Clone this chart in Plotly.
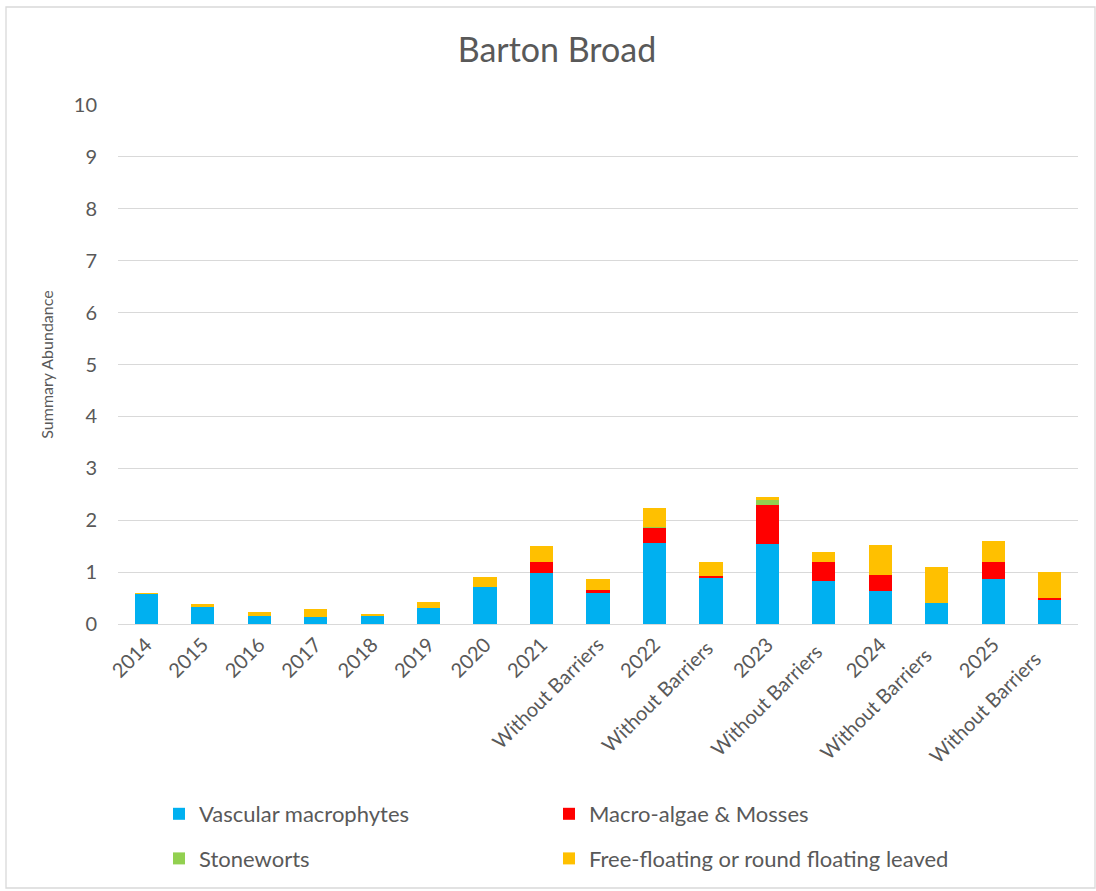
import plotly.graph_objects as go

categories = ["2014", "2015", "2016", "2017", "2018", "2019", "2020", "2021",
              "Without Barriers", "2022", "Without Barriers ", "2023",
              "Without Barriers  ", "2024", "Without Barriers   ", "2025",
              "Without Barriers    "]

vascular = [0.58, 0.32, 0.16, 0.14, 0.17, 0.30, 0.72, 0.98, 0.60, 1.56, 0.90, 1.54, 0.83, 0.63, 0.40, 0.86, 0.48]
macro_algae = [0.0, 0.0, 0.0, 0.0, 0.0, 0.0, 0.0, 0.21, 0.05, 0.29, 0.02, 0.76, 0.36, 0.31, 0.0, 0.33, 0.02]
stoneworts = [0.0, 0.0, 0.0, 0.0, 0.0, 0.0, 0.0, 0.0, 0.0, 0.01, 0.0, 0.08, 0.0, 0.0, 0.0, 0.0, 0.0]
free_floating = [0.01, 0.06, 0.07, 0.14, 0.03, 0.12, 0.18, 0.31, 0.21, 0.38, 0.27, 0.07, 0.20, 0.58, 0.69, 0.40, 0.50]

series = [
    ("Vascular macrophytes", vascular, "#00B0F0", "legend", "g1"),
    ("Macro-algae & Mosses", macro_algae, "#FF0000", "legend2", "g2"),
    ("Stoneworts", stoneworts, "#92D050", "legend", "g3"),
    ("Free-floating or round floating leaved", free_floating, "#FFC000", "legend2", "g4"),
]

FONT = "Lato"
TXT = "#595959"
W, H = 1096, 891
L, R, T, B = 118, 18, 105, 267
PW, PH = W - L - R, H - T - B

fig = go.Figure()
for name, vals, color, leg, grp in series:
    fig.add_trace(go.Bar(
        x=categories, y=vals, name=name,
        marker=dict(color=color, line=dict(width=0)),
        legend=leg, legendgroup=grp,
    ))

def px_x(x):
    return (x - L) / PW

def px_y(y):
    return (H - B - y) / PH

legend_common = dict(xanchor="left", yanchor="top", orientation="v", tracegroupgap=13,
                     font=dict(size=22, color=TXT), bgcolor="rgba(0,0,0,0)")

fig.update_layout(
    width=W, height=H,
    barmode="stack", bargap=0.59,
    paper_bgcolor="white", plot_bgcolor="white",
    margin=dict(l=L, r=R, t=T, b=B, autoexpand=False),
    font=dict(family=FONT, color=TXT),
    title=dict(text="Barton Broad", x=(557 / W), xref="container", xanchor="center",
               y=1 - 50 / H, yref="container", yanchor="middle",
               font=dict(size=34, color=TXT, family=FONT)),
    yaxis=dict(range=[0, 10], dtick=1, showgrid=True, gridcolor="#D9D9D9", gridwidth=1.3,
               zeroline=False, showline=False, ticks="", ticklabelstandoff=20,
               tickfont=dict(size=20, color=TXT),
               title=dict(text="Summary Abundance", font=dict(size=16, color=TXT), standoff=16)),
    xaxis=dict(tickangle=-45, showline=True, linecolor="#D9D9D9", linewidth=1.3,
               ticks="", tickfont=dict(size=20, color=TXT)),
    legend=dict(x=px_x(159), y=px_y(793), **legend_common),
    legend2=dict(x=px_x(549), y=px_y(793), **legend_common),
    showlegend=True,
)

# outer chart border
fig.add_shape(type="rect", xref="paper", yref="paper",
              x0=px_x(6), x1=px_x(1095), y0=px_y(888), y1=px_y(7),
              line=dict(color="#D9D9D9", width=1.3), fillcolor="rgba(0,0,0,0)", layer="below")

fig.write_html("out.html")
